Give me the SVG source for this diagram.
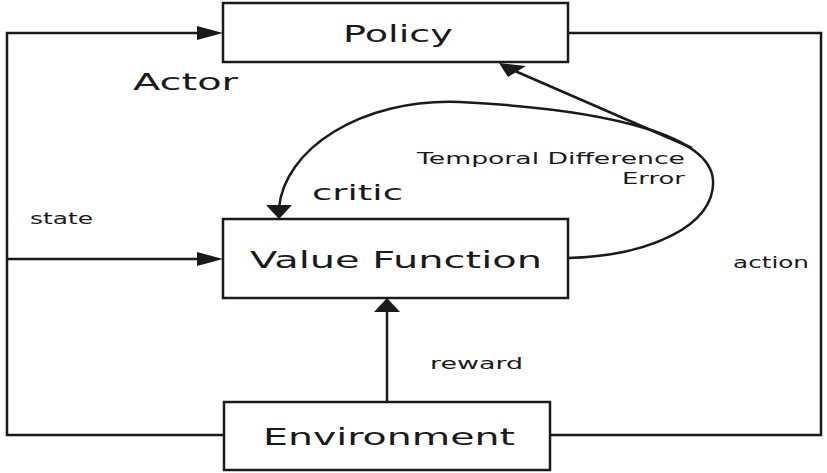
<svg xmlns="http://www.w3.org/2000/svg" width="827" height="473" viewBox="0 0 827 473">
<style>
.box{fill:#fff;stroke:#1a1a1a;stroke-width:2.5}
.ln{fill:none;stroke:#1a1a1a;stroke-width:2.5}
.ah{fill:#1a1a1a;stroke:none}
.t{font-family:"DejaVu Sans","Open Sans",sans-serif;fill:#1a1a1a}
.big{font-size:23px}
.sm{font-size:15px}
</style>
<g id="connectors">
<polyline class="ln" points="224,435 7,435 7,33 200,33"/>
<polygon class="ah" points="223,33 197,26 197,40"/>
<line class="ln" x1="7" y1="259" x2="200" y2="259"/>
<polygon class="ah" points="223,259 197,252 197,266"/>
<polyline class="ln" points="568,33 821,33 821,435 550,435"/>
<line class="ln" x1="387" y1="402" x2="387" y2="310"/>
<polygon class="ah" points="387,298 374,312 400,312"/>
<path class="ln" d="M568,258 C650,256 716,225 713,180 C710,138 620,110 460,102 C360,98 284,150 279,208"/>
<polygon class="ah" points="279,219 266,205 292,205"/>
<line class="ln" x1="692" y1="148" x2="515" y2="71"/>
<polygon class="ah" points="499,63 526,66 508,77"/>
</g>
<g id="policy">
<rect class="box" x="223" y="3" width="345" height="59"/>
<text class="t big" x="343" y="42" textLength="110" lengthAdjust="spacingAndGlyphs">Policy</text>
</g>
<g id="value-function">
<rect class="box" x="223" y="219" width="345" height="79"/>
<text class="t big" x="250" y="268" textLength="292" lengthAdjust="spacingAndGlyphs">Value Function</text>
</g>
<g id="environment">
<rect class="box" x="224" y="402" width="326" height="68"/>
<text class="t big" x="263" y="445" textLength="252" lengthAdjust="spacingAndGlyphs">Environment</text>
</g>
<g id="labels">
<text class="t big" x="133" y="90" textLength="105" lengthAdjust="spacingAndGlyphs">Actor</text>
<text class="t" font-size="22" x="312" y="200" textLength="91" lengthAdjust="spacingAndGlyphs">critic</text>
<text class="t sm" x="417" y="164" textLength="268" lengthAdjust="spacingAndGlyphs">Temporal Difference</text>
<text class="t sm" x="622" y="184" textLength="63" lengthAdjust="spacingAndGlyphs">Error</text>
<text class="t sm" x="30" y="224" textLength="63" lengthAdjust="spacingAndGlyphs">state</text>
<text class="t sm" x="733" y="268" textLength="76" lengthAdjust="spacingAndGlyphs">action</text>
<text class="t sm" x="430" y="369" textLength="93" lengthAdjust="spacingAndGlyphs">reward</text>
</g>
</svg>
